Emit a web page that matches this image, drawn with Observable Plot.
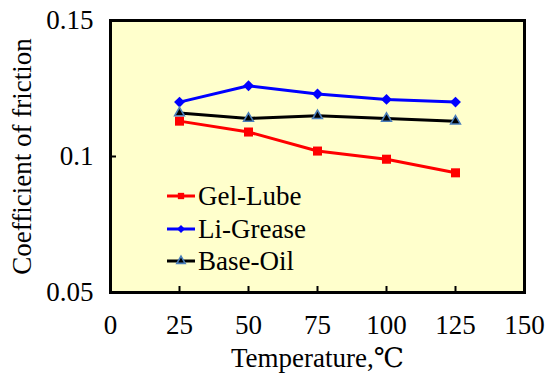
<!DOCTYPE html>
<html>
<head>
<meta charset="utf-8">
<script src="https://cdn.jsdelivr.net/npm/d3@7"></script>
<script src="https://cdn.jsdelivr.net/npm/@observablehq/plot@0.6"></script>
<style>
  html, body { margin: 0; padding: 0; background: #fff; }
  #chart { position: relative; width: 547px; height: 374px; font-family: "Liberation Serif", "Times New Roman", Times, "DejaVu Serif", serif; }
  #chart svg text { font-family: "Liberation Serif", "Times New Roman", Times, "DejaVu Serif", serif; }
  #legend { position: absolute; left: 166px; top: 180px; font-size: 27px; line-height: 32.5px; color: #000; }
  #legend .row { display: flex; align-items: center; height: 32.5px; white-space: nowrap; }
  #legend svg { width: 30px; height: 20px; margin-right: 2px; overflow: visible; }
</style>
</head>
<body>
<div id="chart"></div>
<script>
// Temperature (°C) at which friction was measured
const temperatures = [25, 50, 75, 100, 125];
// Coefficient of friction for each lubricant
const gelLube  = [0.113, 0.109, 0.102, 0.099, 0.094];
const liGrease = [0.120, 0.126, 0.123, 0.121, 0.120];
const baseOil  = [0.116, 0.114, 0.115, 0.114, 0.113];

const seriesNames = ["Gel-Lube", "Li-Grease", "Base-Oil"];
const xTicks = [0, 25, 50, 75, 100, 125, 150];
const yTicks = [0.05, 0.1, 0.15];
const xTitle = "Temperature,\u2103";
const yTitle = "Coefficient of friction";

const serif = "'Liberation Serif', 'Times New Roman', Times, 'DejaVu Serif', serif";

const styles = {
  "Gel-Lube":  {color: "#ff0000", symbol: "square",   r: 5.1, fill: "#ff0000", stroke: "none", sw: 0},
  "Li-Grease": {color: "#0000ff", symbol: "diamond2", r: 4.9, fill: "#0000ff", stroke: "none", sw: 0},
  "Base-Oil":  {color: "#000000", symbol: "triangle", r: 3.6, fill: "#000000", stroke: "#4a7ebb", sw: 1.6}
};

const values = {"Gel-Lube": gelLube, "Li-Grease": liGrease, "Base-Oil": baseOil};
const rows = seriesNames.flatMap(s => temperatures.map((t, i) => ({series: s, t, v: values[s][i]})));

const lineMarks = seriesNames.map(s =>
  Plot.line(rows.filter(d => d.series === s), {x: "t", y: "v", stroke: styles[s].color, strokeWidth: 3})
);
const dotMarks = seriesNames.map(s =>
  Plot.dot(rows.filter(d => d.series === s), {
    x: "t", y: "v", symbol: styles[s].symbol, r: styles[s].r,
    fill: styles[s].fill, stroke: styles[s].stroke, strokeWidth: styles[s].sw
  })
);

const chart = Plot.plot({
  width: 547,
  height: 374,
  marginLeft: 110,
  marginRight: 23,
  marginTop: 20,
  marginBottom: 82,
  style: {fontFamily: serif, fontSize: "27px", color: "#000", background: "transparent"},
  x: {domain: [0, 150]},
  y: {domain: [0.05, 0.15]},
  marks: [
    Plot.frame({fill: "#ffffcc", stroke: null}),
    // inward tick marks
    Plot.ruleX(xTicks.slice(1, -1), {x: d => d, insetTop: 266, stroke: "#000", strokeWidth: 2}),
    Plot.ruleY(yTicks.slice(1, -1), {y: d => d, insetRight: 408, stroke: "#000", strokeWidth: 2}),
    ...lineMarks,
    ...dotMarks,
    Plot.axisX({ticks: xTicks, tickSize: 0, tickPadding: 22, label: null, tickFormat: d => String(d), fontFamily: serif}),
    Plot.axisY({ticks: yTicks, tickSize: 0, tickPadding: 17, label: null, tickFormat: d => String(d), fontFamily: serif}),
    Plot.text([xTitle], {text: d => d, frameAnchor: "bottom", dy: 66, lineAnchor: "middle", textAnchor: "middle", fontSize: 27, fontFamily: serif}),
    Plot.text([yTitle], {text: d => d, frameAnchor: "left", dx: -88, rotate: -90, lineAnchor: "middle", textAnchor: "middle", fontSize: 27, fontFamily: serif}),
    Plot.frame({stroke: "#000", strokeWidth: 3, fill: null})
  ]
});

const root = document.getElementById("chart");
root.appendChild(chart);

// Legend drawn over the plot area
const legend = document.createElement("div");
legend.id = "legend";
for (const s of seriesNames) {
  const st = styles[s];
  const row = document.createElement("div");
  row.className = "row";
  const sym = d3.symbol().type(
    st.symbol === "square" ? d3.symbolSquare : st.symbol === "diamond2" ? d3.symbolDiamond2 : d3.symbolTriangle
  ).size(st.symbol === "triangle" ? 30 : 40)();
  row.innerHTML =
    `<svg viewBox="0 0 30 20"><line x1="1" y1="10" x2="29" y2="10" stroke="${st.color}" stroke-width="3"/>` +
    `<path d="${sym}" transform="translate(15,10)" fill="${st.fill}" stroke="${st.stroke}" stroke-width="${st.sw}"/></svg>` +
    `<span>${s}</span>`;
  legend.appendChild(row);
}
root.appendChild(legend);
</script>
</body>
</html>
